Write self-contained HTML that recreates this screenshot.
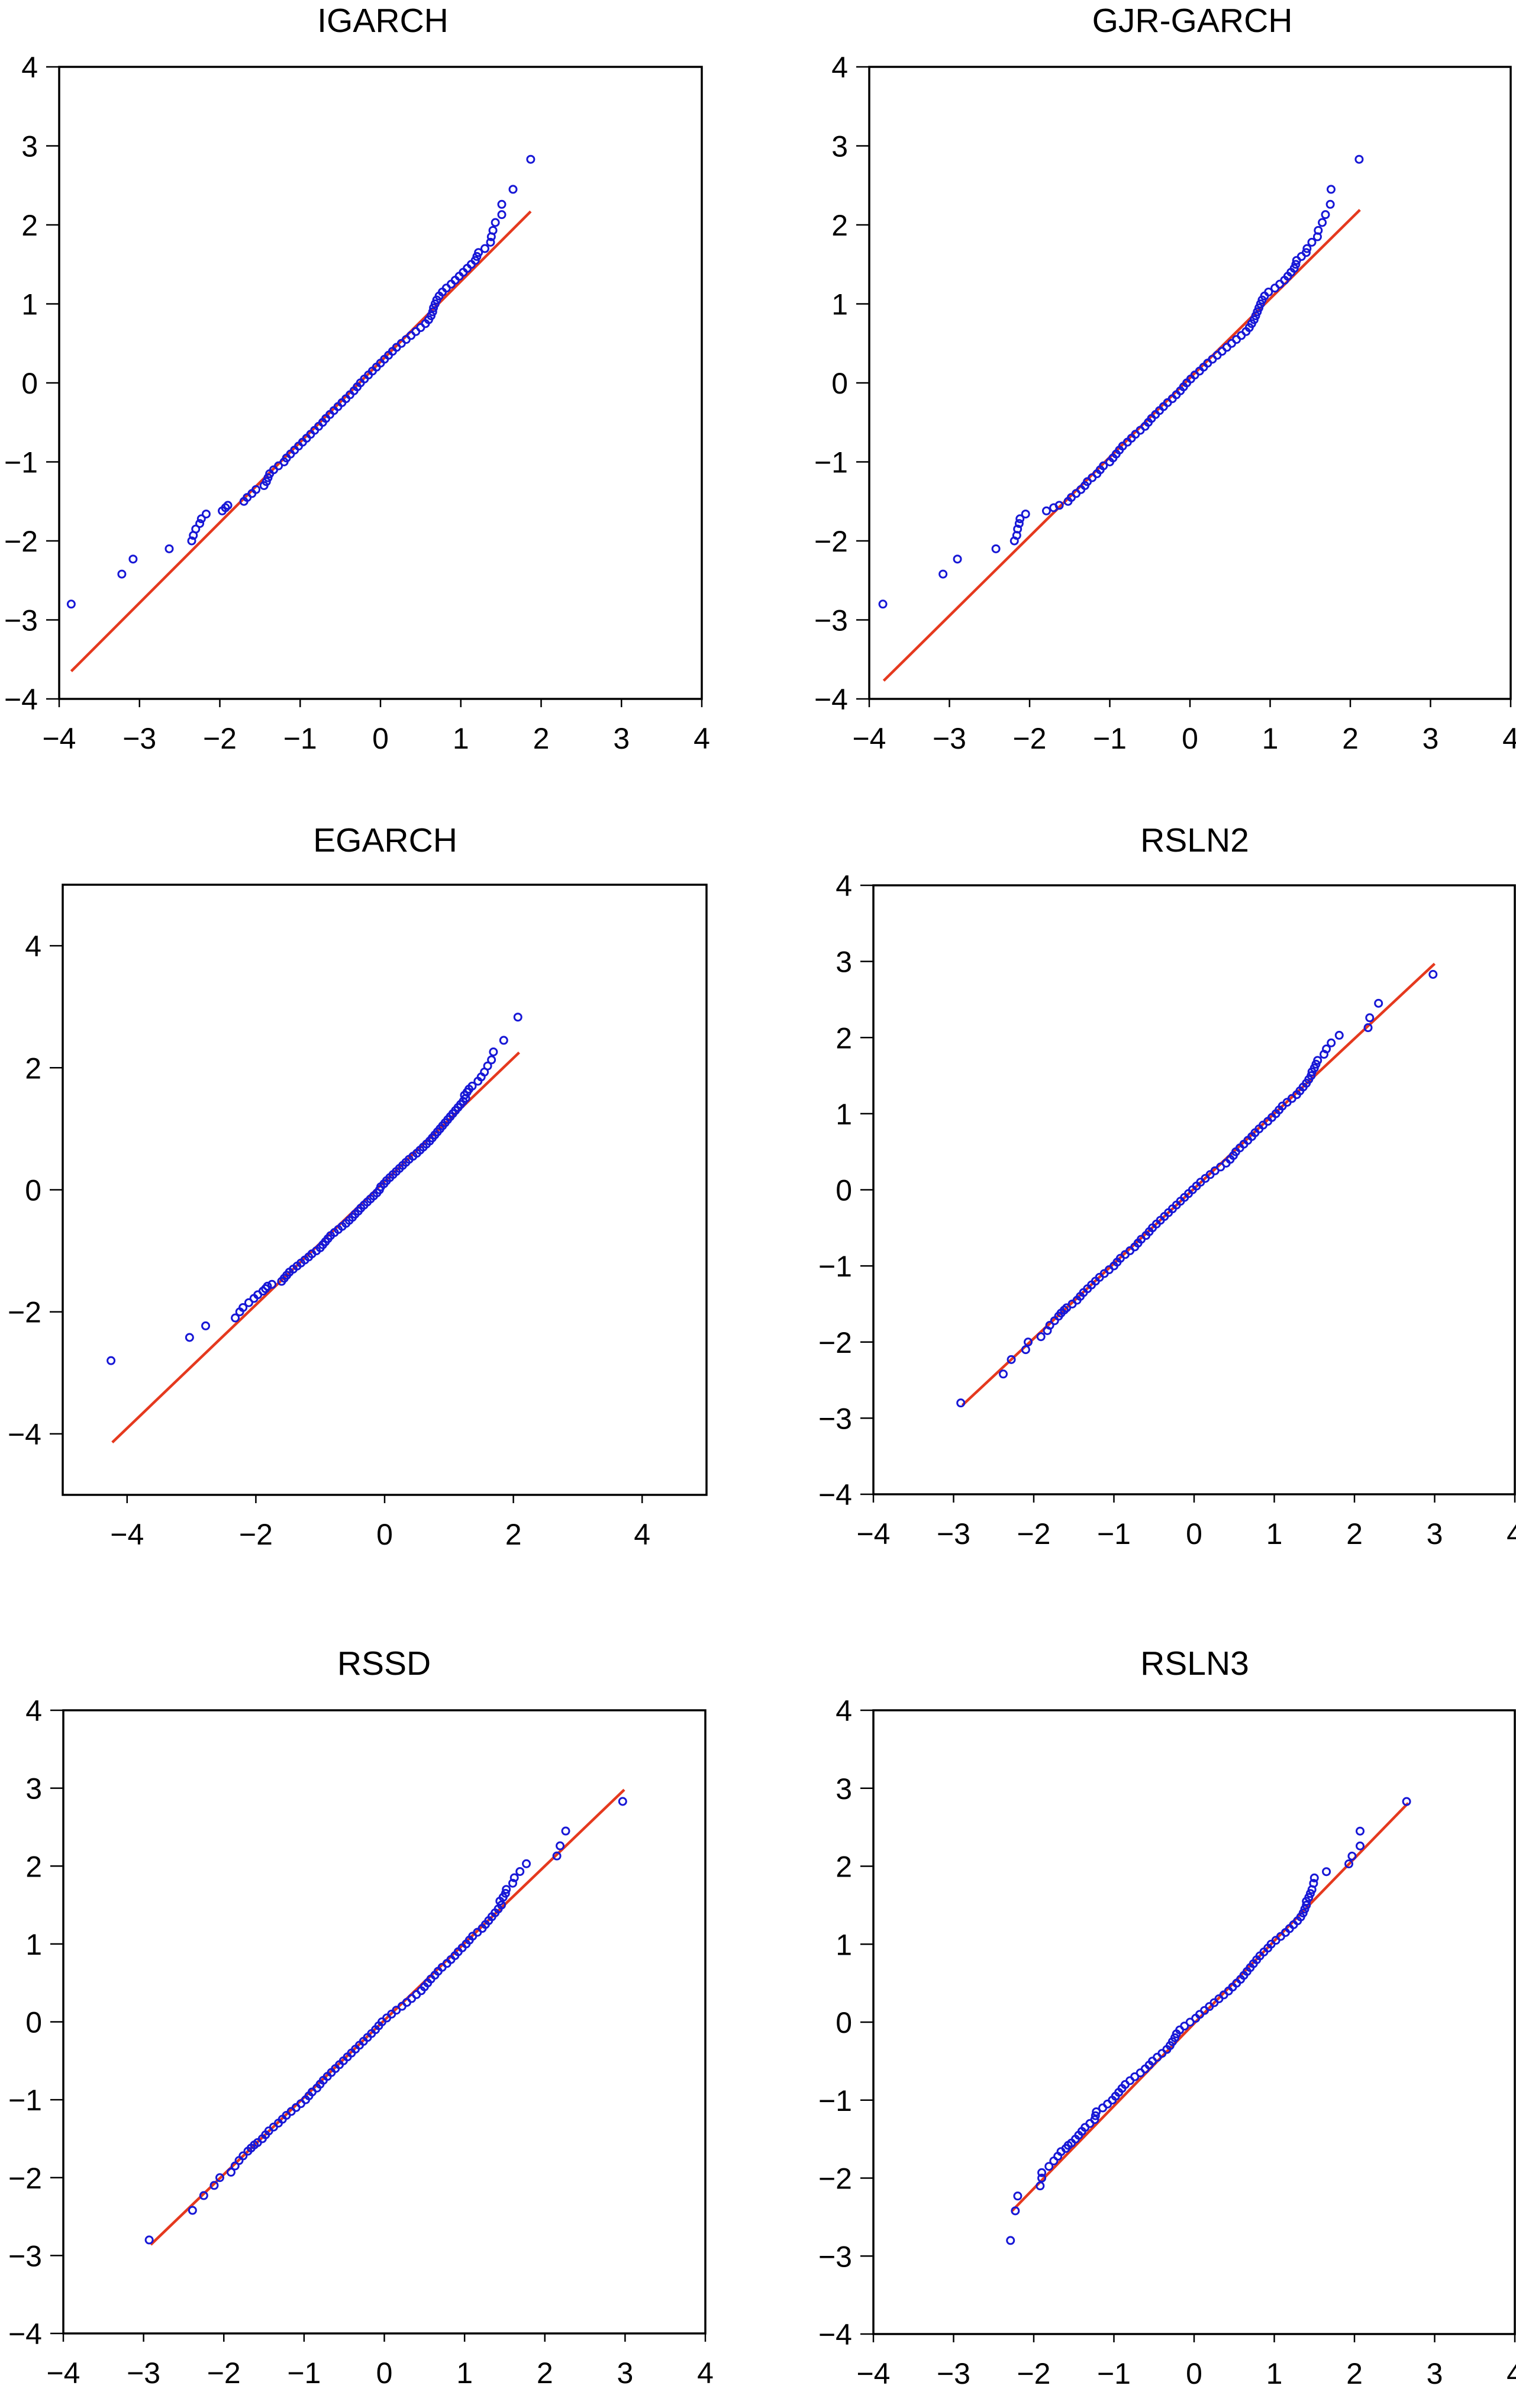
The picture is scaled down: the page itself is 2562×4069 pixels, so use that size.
<!DOCTYPE html>
<html><head><meta charset="utf-8"><style>
html,body{margin:0;padding:0;background:#fff}
svg{display:block}
text{font-family:"Liberation Sans",Arial,sans-serif;fill:#000}
</style></head>
<body>
<svg id="chart" width="2562" height="4069" viewBox="0 0 2562 4069" xmlns="http://www.w3.org/2000/svg">
<rect width="2562" height="4069" fill="#fff"/>
<text x="647" y="54" font-size="57" text-anchor="middle">IGARCH</text>
<text x="2015" y="54" font-size="57" text-anchor="middle">GJR-GARCH</text>
<text x="651" y="1439" font-size="57" text-anchor="middle">EGARCH</text>
<text x="2019" y="1439" font-size="57" text-anchor="middle">RSLN2</text>
<text x="649" y="2830" font-size="57" text-anchor="middle">RSSD</text>
<text x="2019" y="2830" font-size="57" text-anchor="middle">RSLN3</text>
</svg>
<script>
// shared empirical quantiles (y)
const yQuant = [-2.80,-2.42,-2.23,-2.10,-2.00,-1.93,-1.85,-1.78,-1.72,-1.66,-1.62,-1.58,-1.55,
-1.50,-1.45,-1.40,-1.35,-1.30,-1.25,-1.20,-1.15,-1.10,-1.05,-1.00,
-0.95,-0.90,-0.85,-0.80,-0.75,-0.70,-0.65,-0.60,-0.55,-0.50,
-0.45,-0.40,-0.35,-0.30,-0.25,-0.20,-0.15,-0.10,-0.05,0.00,
0.05,0.10,0.15,0.20,0.25,0.30,0.35,0.40,0.45,0.50,
0.55,0.60,0.65,0.70,0.75,0.80,0.85,0.90,0.95,1.00,
1.05,1.10,1.15,1.20,1.25,1.30,1.35,1.40,1.45,1.50,
1.55,1.60,1.65,1.70,1.78,1.85,1.93,2.03,2.13,2.26,2.45,2.83];

const xIGARCH = [-3.85,-3.22,-3.08,-2.63,-2.35,-2.33,-2.30,-2.25,-2.23,-2.17,-1.97,-1.93,-1.90,
-1.70,-1.66,-1.60,-1.55,-1.45,-1.42,-1.40,-1.38,-1.33,-1.27,-1.20,
-1.17,-1.12,-1.07,-1.02,-0.97,-0.92,-0.87,-0.82,-0.77,-0.72,
-0.68,-0.63,-0.58,-0.53,-0.48,-0.43,-0.38,-0.33,-0.29,-0.25,
-0.20,-0.15,-0.10,-0.05,0.00,0.05,0.10,0.15,0.20,0.26,
0.32,0.38,0.44,0.50,0.56,0.60,0.63,0.65,0.66,0.68,
0.70,0.73,0.77,0.82,0.88,0.93,0.98,1.03,1.08,1.13,
1.18,1.20,1.22,1.30,1.37,1.38,1.40,1.43,1.51,1.51,1.65,1.87];

const xGJR = [-3.83,-3.08,-2.90,-2.42,-2.19,-2.16,-2.15,-2.13,-2.12,-2.05,-1.79,-1.70,-1.63,
-1.52,-1.48,-1.42,-1.36,-1.31,-1.28,-1.22,-1.16,-1.12,-1.08,-1.00,
-0.96,-0.92,-0.88,-0.84,-0.78,-0.73,-0.68,-0.62,-0.56,-0.52,
-0.48,-0.43,-0.38,-0.33,-0.28,-0.22,-0.17,-0.12,-0.08,-0.04,
0.01,0.06,0.12,0.17,0.22,0.28,0.34,0.40,0.46,0.52,
0.58,0.64,0.70,0.74,0.77,0.80,0.82,0.84,0.86,0.88,
0.90,0.93,0.98,1.06,1.12,1.18,1.22,1.26,1.30,1.32,
1.33,1.39,1.45,1.46,1.52,1.59,1.60,1.65,1.69,1.75,1.76,2.11];

const xEGARCH = [-4.25,-3.03,-2.78,-2.32,-2.25,-2.20,-2.11,-2.03,-1.97,-1.89,-1.85,-1.82,-1.75,
-1.60,-1.56,-1.52,-1.48,-1.42,-1.36,-1.30,-1.24,-1.18,-1.13,-1.06,
-1.00,-0.96,-0.92,-0.88,-0.84,-0.78,-0.72,-0.66,-0.60,-0.55,
-0.50,-0.46,-0.41,-0.37,-0.32,-0.27,-0.22,-0.17,-0.12,-0.08,
-0.06,-0.01,0.03,0.08,0.13,0.18,0.23,0.28,0.33,0.38,
0.44,0.50,0.55,0.60,0.65,0.70,0.74,0.78,0.82,0.86,
0.90,0.94,0.98,1.02,1.06,1.10,1.14,1.18,1.22,1.26,
1.24,1.28,1.31,1.36,1.45,1.50,1.55,1.60,1.66,1.69,1.85,2.07];

const xRSLN2 = [-2.91,-2.38,-2.28,-2.10,-2.07,-1.91,-1.83,-1.80,-1.74,-1.69,-1.66,-1.62,-1.59,
-1.52,-1.46,-1.42,-1.38,-1.33,-1.28,-1.23,-1.18,-1.12,-1.06,-1.00,
-0.96,-0.92,-0.86,-0.80,-0.74,-0.70,-0.66,-0.60,-0.56,-0.52,
-0.47,-0.42,-0.37,-0.32,-0.27,-0.22,-0.17,-0.12,-0.07,-0.02,
0.03,0.08,0.14,0.20,0.26,0.33,0.40,0.45,0.49,0.52,
0.57,0.62,0.67,0.72,0.76,0.81,0.86,0.92,0.97,1.02,
1.06,1.10,1.16,1.22,1.28,1.32,1.36,1.40,1.43,1.46,
1.47,1.50,1.52,1.54,1.62,1.65,1.71,1.81,2.17,2.19,2.30,2.98];

const xRSSD = [-2.93,-2.39,-2.25,-2.12,-2.05,-1.91,-1.86,-1.81,-1.76,-1.70,-1.66,-1.62,-1.58,
-1.52,-1.48,-1.44,-1.38,-1.32,-1.27,-1.22,-1.16,-1.10,-1.04,-0.98,
-0.94,-0.90,-0.84,-0.80,-0.76,-0.71,-0.66,-0.61,-0.56,-0.51,
-0.46,-0.41,-0.36,-0.31,-0.26,-0.21,-0.16,-0.11,-0.07,-0.03,
0.03,0.09,0.15,0.22,0.28,0.34,0.40,0.46,0.50,0.54,
0.58,0.63,0.67,0.72,0.78,0.83,0.88,0.92,0.97,1.02,
1.06,1.10,1.16,1.22,1.26,1.30,1.34,1.38,1.42,1.46,
1.44,1.48,1.51,1.52,1.60,1.62,1.69,1.77,2.15,2.19,2.26,2.97];

const xRSLN3 = [-2.29,-2.23,-2.20,-1.92,-1.90,-1.90,-1.81,-1.75,-1.70,-1.66,-1.60,-1.57,-1.53,
-1.48,-1.44,-1.40,-1.36,-1.30,-1.24,-1.23,-1.22,-1.14,-1.08,-1.02,
-0.98,-0.94,-0.90,-0.86,-0.80,-0.74,-0.67,-0.61,-0.56,-0.52,
-0.46,-0.40,-0.34,-0.30,-0.27,-0.24,-0.22,-0.18,-0.12,-0.05,
0.02,0.07,0.13,0.19,0.25,0.31,0.37,0.43,0.48,0.53,
0.58,0.62,0.66,0.70,0.74,0.78,0.82,0.87,0.92,0.96,
1.02,1.08,1.14,1.19,1.24,1.29,1.33,1.36,1.38,1.40,
1.40,1.43,1.45,1.47,1.49,1.50,1.65,1.93,1.97,2.07,2.07,2.65];

// reference lines [x0, y0, x1, y1]
const lineIGARCH = [-3.85,-3.65,1.87,2.17];
const lineGJR = [-3.82,-3.77,2.12,2.19];
const lineEGARCH = [-4.23,-4.14,2.09,2.25];
const lineRSLN2 = [-2.89,-2.83,3.00,2.97];
const lineRSSD = [-2.91,-2.86,2.99,2.98];
const lineRSLN3 = [-2.27,-2.42,2.67,2.81];

const ticks8 = [-4,-3,-2,-1,0,1,2,3,4];
const ticks10 = [-4,-2,0,2,4];

const panels = [
 {id:'igarch', xs:xIGARCH, line:lineIGARCH, dom:4, ticks:ticks8, L:100, R:1186, T:113, B:1181},
 {id:'gjr-garch', xs:xGJR, line:lineGJR, dom:4, ticks:ticks8, L:1469, R:2553, T:113, B:1181},
 {id:'egarch', xs:xEGARCH, line:lineEGARCH, dom:5, ticks:ticks10, L:106, R:1194, T:1495, B:2526},
 {id:'rsln2', xs:xRSLN2, line:lineRSLN2, dom:4, ticks:ticks8, L:1476, R:2560, T:1496, B:2525},
 {id:'rssd', xs:xRSSD, line:lineRSSD, dom:4, ticks:ticks8, L:107, R:1192, T:2890, B:3943},
 {id:'rsln3', xs:xRSLN3, line:lineRSLN3, dom:4, ticks:ticks8, L:1476, R:2560, T:2890, B:3944}
];

const NS='http://www.w3.org/2000/svg';
const svg=document.getElementById('chart');
function mk(tag, attrs, parent){
  const e=document.createElementNS(NS,tag);
  for(const k in attrs) e.setAttribute(k,attrs[k]);
  (parent||svg).appendChild(e); return e;
}
function lab(v){return v<0?'\u2212'+Math.abs(v):String(v);}

panels.forEach(p=>{
  const g=mk('g',{});
  
  
  const sx=v=>p.L+(v+p.dom)/(2*p.dom)*(p.R-p.L);
  const sy=v=>p.B-(v+p.dom)/(2*p.dom)*(p.B-p.T);
  const box=mk('rect',{x:p.L,y:p.T,width:p.R-p.L,height:p.B-p.T,fill:'none',stroke:'#000','stroke-width':3.5},g);
  
  
  p.ticks.forEach(t=>{
    const y=sy(t);
    const tk=mk('line',{x1:p.L-22,x2:p.L,y1:y,y2:y,stroke:'#000','stroke-width':2.5},g);
    
    
    const tx=mk('text',{x:p.L-36,y:y+18,'font-size':50,'text-anchor':'end'},g);
    tx.textContent=lab(t);
    
    
    const x=sx(t);
    const tk2=mk('line',{x1:x,x2:x,y1:p.B,y2:p.B+14,stroke:'#000','stroke-width':2.5},g);
    
    
    const tx2=mk('text',{x:x,y:p.B+84,'font-size':50,'text-anchor':'middle'},g);
    tx2.textContent=lab(t);
    
    
  });
  const ln=mk('line',{x1:sx(p.line[0]),y1:sy(p.line[1]),x2:sx(p.line[2]),y2:sy(p.line[3]),stroke:'#e5391e','stroke-width':4.5},g);
  
  
  p.xs.forEach((xv,i)=>{
    const c=mk('circle',{cx:sx(xv),cy:sy(yQuant[i]),r:6,fill:'none',stroke:'#1717d6','stroke-width':3},g);
    
    
  });
});
</script>
</body></html>
